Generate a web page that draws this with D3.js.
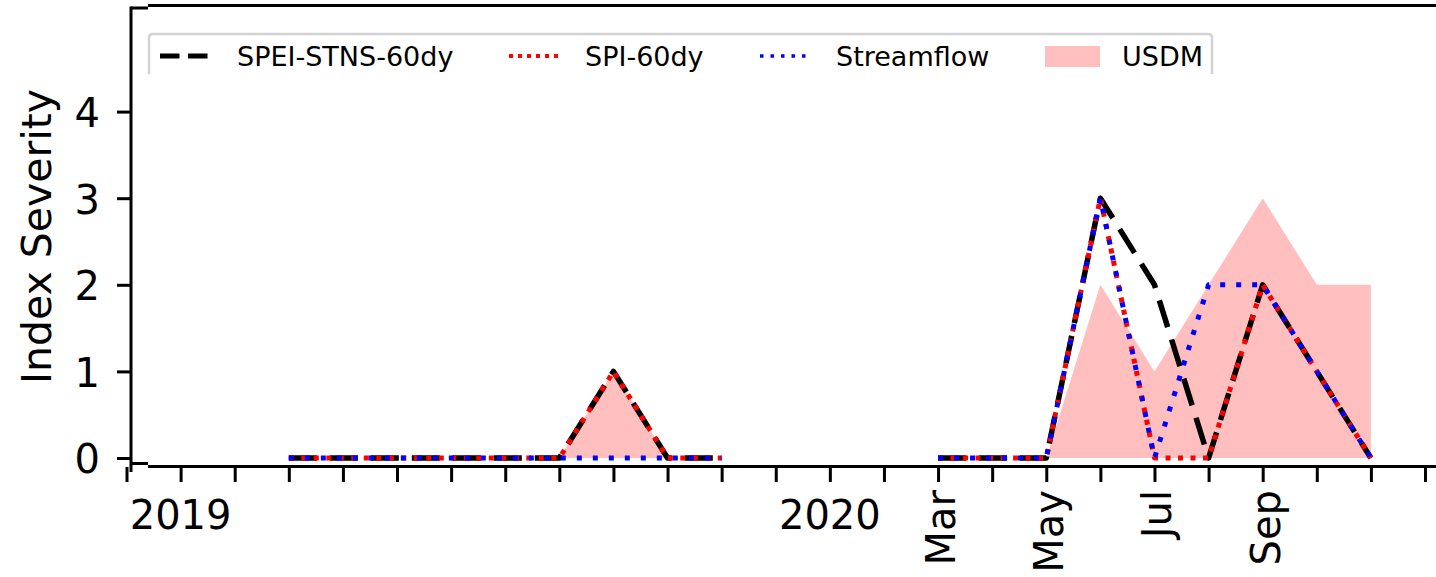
<!DOCTYPE html>
<html><head><meta charset="utf-8">
<script src="https://cdn.jsdelivr.net/npm/d3@7"></script>
<style>
body{margin:0;background:#fff;}
svg{display:block;font-family:"DejaVu Sans",sans-serif;}
</style>
</head><body>
<svg id="chart" width="1436" height="577"></svg>
<script>
// ---- data ----
const months = ["2019-03","2019-04","2019-05","2019-06","2019-07","2019-08","2019-09","2019-10","2019-11",
                "2019-12","2020-01","2020-02",
                "2020-03","2020-04","2020-05","2020-06","2020-07","2020-08","2020-09","2020-10","2020-11"];
const spei       = [0,0,0,0,0,0,1,0,0, null,null,null, 0,0,0,3,2,0,2,1,0];
const spi        = [0,0,0,0,0,0,1,0,0, null,null,null, 0,0,0,3,0,0,2,1,0];
const streamflow = [0,0,0,0,0,0,0,0,0, null,null,null, 0,0,0,3,0,2,2,1,0];
const usdm       = [0,0,0,0,0,0,1,0,0, null,null,null, 0,0,0,2,1,2,3,2,2];
const yTicks = [0,1,2,3,4];
const xTickStart = "2018-12", xTickEnd = "2020-12";
const xLabelMonths = ["2019-01","2020-01","2020-03","2020-05","2020-07","2020-09"];
const xLabelTexts  = ["2019","2020","Mar","May","Jul","Sep"];
const xLabelRotated = [false,false,true,true,true,true];
const seriesNames = ["SPEI-STNS-60dy","SPI-60dy","Streamflow","USDM"];

// ---- helpers ----
const idx = s => { const [y,m] = s.split("-").map(Number); return (y-2018)*12 + (m-1) - 11; };
const svg = d3.select("#chart");
const x = d3.scaleLinear().domain([0, idx(xTickEnd)]).range([126.5, 1425]);
const y = d3.scaleLinear().domain([0,4]).range([458, 111.6]);

// ---- fill (USDM) ----
const pts = arr => months.map((m,i)=>({i:idx(m), v:arr[i]}));
const area = d3.area().defined(d=>d.v!=null).x(d=>x(d.i)).y0(y(0)).y1(d=>y(d.v));
svg.append("path").attr("d", area(pts(usdm))).attr("fill","#ffbfbf").attr("stroke","none");

// ---- lines ----
const line = d3.line().defined(d=>d.v!=null).x(d=>x(d.i)).y(d=>y(d.v));
const styles = [
  {data:spei, color:"#000000", w:5.5, dash:"28,13"},
  {data:spi, color:"#ff0000", w:5, dash:"5,7.5"},
  {data:streamflow, color:"#0000ff", w:5, dash:"5,11"}
];
styles.forEach(s=>{
  svg.append("path").attr("d", line(pts(s.data)))
    .attr("fill","none").attr("stroke",s.color).attr("stroke-width",s.w)
    .attr("stroke-dasharray",s.dash).attr("stroke-linejoin","round").attr("stroke-linecap","butt");
});

// ---- spines ----
const sp = svg.append("g").attr("stroke","#000").attr("stroke-width",3).attr("fill","none");
sp.append("path").attr("d","M131,6.5V472");
sp.append("path").attr("d","M131,8H148");
sp.append("path").attr("d","M148,5.5H1436");
sp.append("path").attr("d","M131,463.5H148");
sp.append("path").attr("d","M148,466.5H1436");

// ---- x axis ticks ----
const xAxis = d3.axisBottom(x).tickValues(d3.range(idx(xTickStart), idx(xTickEnd)+1)).tickSize(15).tickFormat("");
const gx = svg.append("g").attr("transform","translate(0,467)").call(xAxis);
gx.select(".domain").remove();
gx.selectAll(".tick line").attr("stroke","#000").attr("stroke-width",3);

// x labels
xLabelMonths.forEach((m,k)=>{
  const px = x(idx(m));
  if (xLabelRotated[k]) {
    svg.append("text").attr("transform",`translate(${px+17},490) rotate(-90)`)
      .attr("text-anchor","end").attr("font-size",40).attr("fill","#000").text(xLabelTexts[k]);
  } else {
    svg.append("text").attr("x",px).attr("y",529).attr("text-anchor","middle")
      .attr("font-size",40).attr("fill","#000").text(xLabelTexts[k]);
  }
});

// ---- y axis ----
const yAxis = d3.axisLeft(y).tickValues(yTicks).tickSize(14).tickPadding(17).tickFormat(d3.format("d"));
const gy = svg.append("g").attr("transform","translate(131,0)").call(yAxis);
gy.select(".domain").remove();
gy.selectAll(".tick line").attr("stroke","#000").attr("stroke-width",3);
gy.selectAll(".tick text").attr("font-size",40).attr("font-family","DejaVu Sans").attr("fill","#000").attr("dy","0.37em");

svg.append("text").attr("transform","translate(51,236.5) rotate(-90)")
  .attr("text-anchor","middle").attr("font-size",41).attr("fill","#000").text("Index Severity");

// ---- legend ----
const lg = svg.append("g");
lg.append("path").attr("d","M149,74V38Q149,34 153,34H1208Q1212,34 1212,38V74")
  .attr("fill","none").attr("stroke","#d3d3d3").attr("stroke-width",2.5);
const ly = 56;
const handles = [
  {x:160, color:"#000", w:5, dash:"19.5,8.5", tx:237},
  {x:509, color:"#ff0000", w:4, dash:"4,5", tx:585},
  {x:760, color:"#0000ff", w:3.5, dash:"3.5,7", tx:836}
];
handles.forEach((h,k)=>{
  lg.append("line").attr("x1",h.x).attr("x2",h.x+52).attr("y1",ly).attr("y2",ly)
    .attr("stroke",h.color).attr("stroke-width",h.w).attr("stroke-dasharray",h.dash);
  lg.append("text").attr("x",h.tx).attr("y",66).attr("font-size",27).attr("fill","#000").text(seriesNames[k]);
});
lg.append("rect").attr("x",1045).attr("y",46).attr("width",55).attr("height",21).attr("fill","#ffbfbf");
lg.append("text").attr("x",1122).attr("y",66).attr("font-size",27).attr("fill","#000").text(seriesNames[3]);
</script>
</body></html>
